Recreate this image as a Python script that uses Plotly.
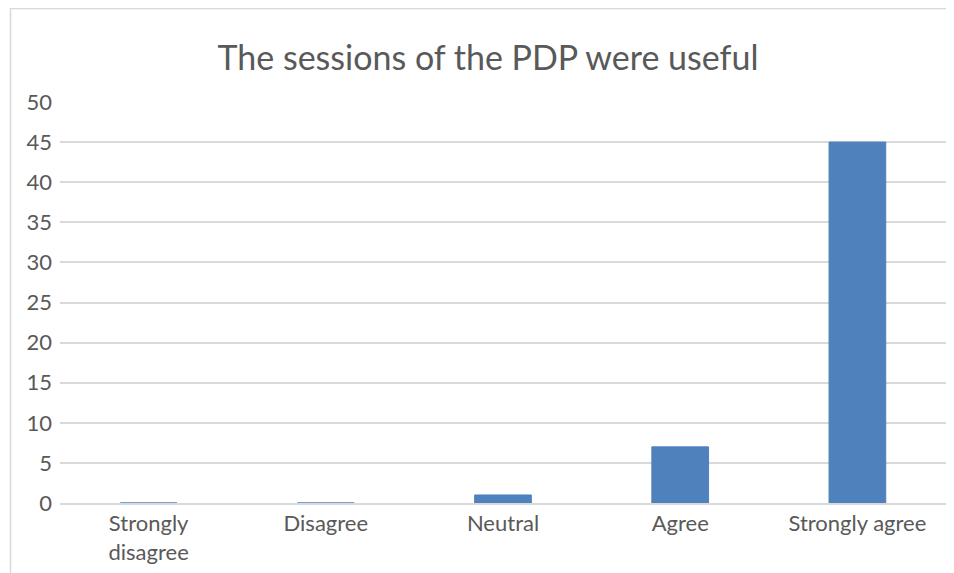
import plotly.graph_objects as go

categories = ["Strongly<br>disagree", "Disagree", "Neutral", "Agree", "Strongly agree"]
values = [0, 0, 1, 7, 45]
y_ticks = [0, 5, 10, 15, 20, 25, 30, 35, 40, 45, 50]

W, H = 946, 565
L, R, T, B = 52, 8, 94, 70
PW, PH = W - L - R, H - T - B

fig = go.Figure()
fig.add_trace(go.Bar(
    x=categories, y=values,
    marker=dict(color="#4f81bd", line=dict(color="#4f81bd", width=1)),
    width=0.32,
))

fig.update_layout(
    width=W, height=H,
    margin=dict(l=L, r=R, t=T, b=B),
    paper_bgcolor="white", plot_bgcolor="white",
    font=dict(family="Lato", color="#595959", size=22),
    title=dict(text="The sessions of the PDP were useful", x=480 / W, xanchor="center",
               y=1 - 50 / H, yanchor="middle",
               font=dict(family="Lato", size=34, color="#595959")),
    showlegend=False,
    shapes=[dict(type="rect", xref="paper", yref="paper",
                 x0=(2.5 - L) / PW, x1=1.2, y0=-0.3, y1=1 + (T - 0.5) / PH,
                 line=dict(color="#d9d9d9", width=1.5), layer="below")],
)
fig.update_xaxes(showgrid=False, showline=True, linecolor="#d9d9d9", linewidth=1.5,
                 ticks="", tickfont=dict(size=22, color="#595959"))
fig.update_yaxes(range=[0, 50], tickvals=y_ticks, showgrid=True, gridcolor="#d9d9d9",
                 gridwidth=1.5, zeroline=False, showline=False, ticks="",
                 ticklabelstandoff=7, tickfont=dict(size=22, color="#595959"))

fig.write_html("out.html")
